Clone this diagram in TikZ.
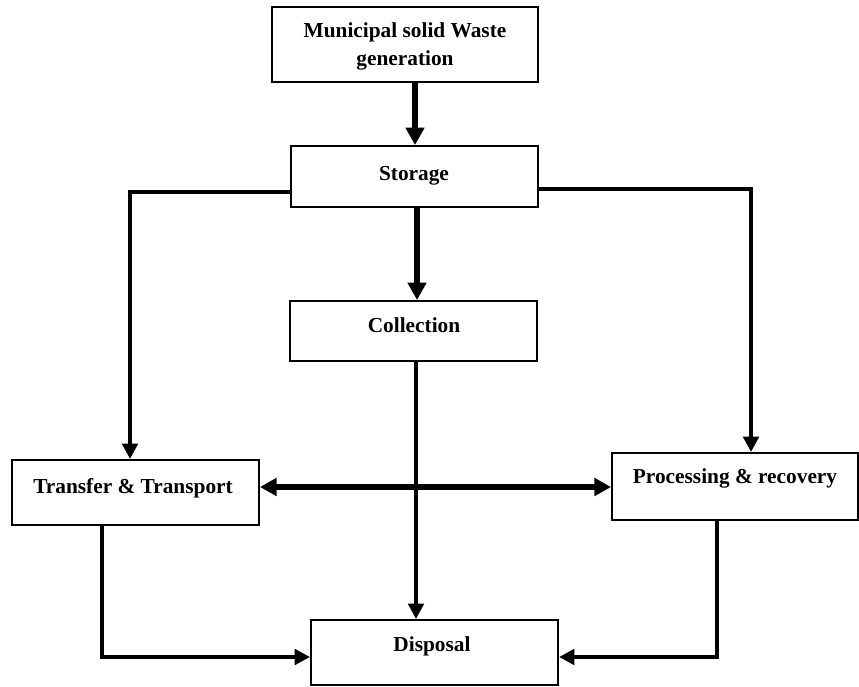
\documentclass[tikz,border=0pt]{standalone}
\usepackage{fontspec}
\setmainfont{Liberation Serif}
\usetikzlibrary{arrows.meta}
\begin{document}
\begin{tikzpicture}[x=0.75pt,y=-0.75pt,
  box/.style={draw=black, line width=1.5pt, fill=white, inner sep=0pt},
  lbl/.style={font=\fontsize{16pt}{21pt}\selectfont\bfseries, inner sep=0pt, anchor=base},
  heavy/.style={line width=4.8pt, -{Triangle[length=13pt,width=13.5pt]}},
  conn/.style={line width=3.2pt, -{Triangle[length=11.5pt,width=11.5pt]}}]
\useasboundingbox[fill=white] (0,0) rectangle (859,686);

\node[box, minimum width=199.5pt, minimum height=56.25pt] (mw) at (405,44.5) {};
\node[box, minimum width=185.25pt, minimum height=45.75pt] (st) at (414.5,176.5) {};
\node[box, minimum width=185.25pt, minimum height=45pt] (co) at (413.5,331) {};
\node[box, minimum width=185.25pt, minimum height=48.75pt] (tt) at (135.5,492.5) {};
\node[box, minimum width=184.5pt, minimum height=50.25pt] (pr) at (735,486.5) {};
\node[box, minimum width=185.25pt, minimum height=48.75pt] (di) at (434.5,652.5) {};

\node[lbl, anchor=center, align=center] (mwt) at (405,46) {Municipal solid Waste\\generation};
\node[lbl] (stt) at (414,180) {Storage};
\node[lbl] (cot) at (414,332) {Collection};
\node[lbl] (ttt) at (133,493) {Transfer \& Transport};
\node[lbl] (prt) at (735,483) {Processing \& recovery};
\node[lbl] (dit) at (432,651) {Disposal};

\draw[heavy] (mw.south -| 415,0) -- (st.north -| 415,0);
\draw[heavy] (st.south -| 417,0) -- (co.north -| 417,0);
\draw[conn] (st.west |- 0,192) -| (tt.north -| 130,0);
\draw[conn] (st.east |- 0,189) -| (pr.north -| 751,0);
\draw[conn] (co.south -| 416,0) -- (di.north -| 416,0);
\draw[line width=4.8pt, {Triangle[length=12.5pt,width=13pt]}-{Triangle[length=12.5pt,width=13pt]}] (tt.east |- 0,487) -- (pr.west |- 0,487);
\draw[conn] (tt.south -| 102,0) |- (di.west |- 0,657);
\draw[conn] (pr.south -| 717,0) |- (di.east |- 0,657);
\end{tikzpicture}
\end{document}
